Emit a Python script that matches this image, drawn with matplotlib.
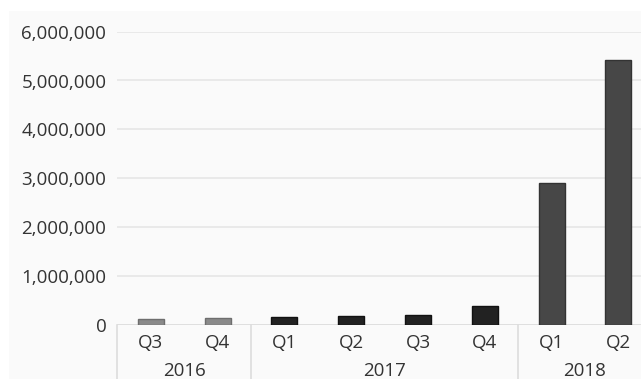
import matplotlib.pyplot as plt
from matplotlib.patches import Rectangle
from matplotlib.ticker import FuncFormatter, MultipleLocator

plt.rcParams['font.family'] = ['Open Sans', 'DejaVu Sans']

# quarterly totals
quarters = ['Q3', 'Q4', 'Q1', 'Q2', 'Q3', 'Q4', 'Q1', 'Q2']
years = ['2016', '2016', '2017', '2017', '2017', '2017', '2018', '2018']
values = [120000, 130000, 145000, 165000, 185000, 385000, 2890000, 5410000]
year_colors = {'2016': '#8a8a8a', '2017': '#222222', '2018': '#474747'}
year_edges = {'2016': '#6e6e6e', '2017': '#111111', '2018': '#333333'}

W, H = 641, 379
fig = plt.figure(figsize=(W / 100, H / 100), dpi=100)
fig.patch.set_facecolor('white')
fig.patches.append(Rectangle((9 / W, 0), 1, 1 - 11 / H, transform=fig.transFigure,
                             facecolor='#fafafa', edgecolor='none', zorder=-10))

ax = fig.add_axes([117.4 / W, 54.5 / H, 534.4 / W, 292.8 / H])
ax.set_facecolor('none')

x = list(range(len(values)))
ax.bar(x, values, width=0.39,
       color=[year_colors[y] for y in years],
       edgecolor=[year_edges[y] for y in years], linewidth=1, zorder=3)

ax.set_xlim(-0.5, len(values) - 0.5)
ax.set_ylim(0, 6000000)
ax.yaxis.set_major_locator(MultipleLocator(1000000))
ax.yaxis.set_major_formatter(FuncFormatter(lambda v, p: f'{int(v):,}'))
ax.grid(axis='y', color='#e6e6e6', linewidth=1.2, zorder=0)
for s in ax.spines.values():
    s.set_visible(False)
ax.axhline(0, color='#dddddd', linewidth=1.2, zorder=2)

ax.set_xticks(x)
ax.set_xticklabels(quarters)
ax.tick_params(axis='both', length=0, labelsize=13.5, labelcolor='#333333')
ax.tick_params(axis='x', pad=7)
ax.tick_params(axis='y', pad=8)

# year group separators and labels below the quarter labels
trans = ax.get_xaxis_transform()
groups = []
for i, y in enumerate(years):
    if not groups or groups[-1][0] != y:
        groups.append([y, i, i])
    else:
        groups[-1][2] = i
for y, a, b in groups:
    ax.plot([a - 0.5, a - 0.5], [0, -0.2], transform=trans, color='#dddddd',
            linewidth=1.2, clip_on=False)
    ax.text((a + b) / 2, -0.159, y, transform=trans, ha='center', va='center',
            fontsize=13.5, color='#333333')

fig.savefig('out.png', dpi=100)
